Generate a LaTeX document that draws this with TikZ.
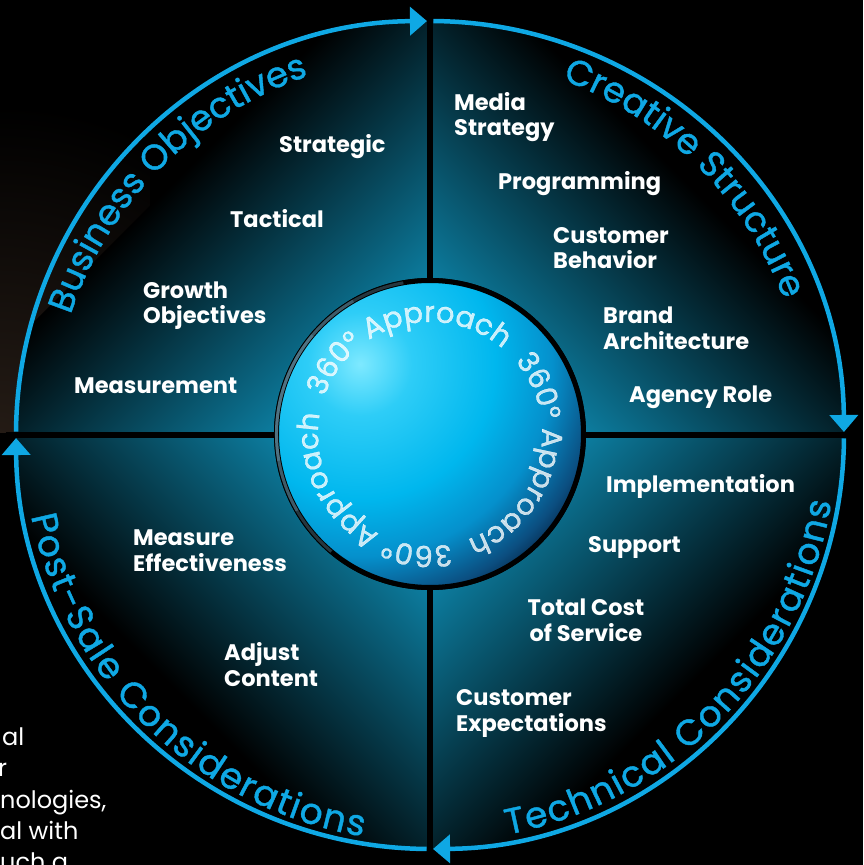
\documentclass[tikz,border=0pt]{standalone}
\usepackage{fontspec}
\setmainfont{Poppins}
\newfontfamily\arcfont{Poppins}[FakeBold=1.1]
\newfontfamily\ringfont{Poppins}[FakeBold=0.8]
\usetikzlibrary{arrows.meta,decorations.text}
\definecolor{arcblue}{HTML}{0FA8E4}
\definecolor{quadc}{HTML}{12B4E6}
\definecolor{quadm}{HTML}{06688C}
\definecolor{browntint}{HTML}{241B15}
\definecolor{bzero}{HTML}{7EE9FF}
\definecolor{bone}{HTML}{2ECDF7}
\definecolor{btwo}{HTML}{00B7EE}
\definecolor{bthree}{HTML}{0590CC}
\definecolor{bfour}{HTML}{0B4E80}
\definecolor{bfive}{HTML}{072A4D}
\definecolor{rimhi}{HTML}{6F9FB5}
\pgfdeclareradialshading{ballsh}{\pgfpoint{0bp}{0bp}}{color(0bp)=(bzero); color(5bp)=(bone); color(13bp)=(btwo); color(18.5bp)=(bthree); color(23bp)=(bfour); color(25bp)=(bfive); color(50bp)=(bfive)}
\tikzset{
  cyc/.style={draw=arcblue, line width=4.5pt, -{Triangle[length=17pt,width=28pt]}},
  lab/.style={text=white, font=\bfseries\fontsize{22.5}{25.5}\selectfont, inner sep=0pt, align=left, anchor=base west},
  frag/.style={text=white, font=\fontsize{24}{24}\selectfont, inner sep=0pt, anchor=base west},
  outerlab/.style={decorate, decoration={text along path, text={|\arcfont\fontsize{35.5}{35.5}\selectfont|#1}, text color=arcblue, text align=center}},
  outerfit/.style={decorate, decoration={text along path, text={|\arcfont\fontsize{36}{36}\selectfont|#1}, text color=arcblue, text align=fit to path}},
  ringlab/.style={decorate, decoration={text along path, text={|\ringfont\fontsize{29}{29}\selectfont|360° Approach}, text color=white, text align=center}},
}
\begin{document}
\begin{tikzpicture}[x=1pt,y=1pt]
\useasboundingbox (-430,-430) rectangle (433,435);
\fill[black] (-430,-430) rectangle (433,435);
% brownish tint at the left edge
\begin{scope}
  \clip (-430,3) rectangle (-280,435);
  \shade[inner color=browntint, outer color=black] (-430,0) circle (330);
\end{scope}
% quadrants with diagonal gradients
\foreach \a in {0,90,180,270} {
  \begin{scope}
    \clip (0,0) -- (\a:414) arc[start angle=\a, end angle=\a+90, radius=414] -- cycle;
    \begin{scope}[transform canvas={rotate=\a+45}]
      \shade[left color=quadc, middle color=quadm, right color=black] (0,-420) rectangle (360,420);
    \end{scope}
  \end{scope}
}
% dividers
\draw[black, line width=6pt] (0,-424) -- (0,424);
\draw[black, line width=6pt] (-424,0) -- (424,0);
% outer arcs with arrows
\draw[cyc] (179.52:414) arc[start angle=179.52, end angle=90.42, radius=414];
\draw[cyc] (89.52:414) arc[start angle=89.52, end angle=0.42, radius=414];
\draw[cyc] (-0.48:414) arc[start angle=-0.48, end angle=-89.58, radius=414];
\draw[cyc] (-90.48:414) arc[start angle=-90.48, end angle=-179.58, radius=414];
% outer labels
\path[outerlab={Business Objectives}]
  (170.1:379) arc[start angle=170.1, end angle=100.1, radius=379];
\path[outerlab={Creative Structure}]
  (80.25:379) arc[start angle=80.25, end angle=10.25, radius=379];
\path[outerfit={Technical Considerations}]
  (-79:407) arc[start angle=-79, end angle=-9.5, radius=407];
\path[outerfit={Post-Sale Considerations}]
  (191.5:407) arc[start angle=191.5, end angle=260.5, radius=407];
% inner ball
\fill[black] (0,1) circle (156);
\begin{scope}
  \clip (0,1) circle (152);
  \shade[shading=ballsh] (-70,71) circle (260);
\end{scope}
\draw[black, line width=5pt] (0,1) circle (153.5);
\draw[rimhi, line width=3pt, opacity=0.35] (0,1) ++(100:153.5) arc[start angle=100, end angle=230, radius=153.5];
\draw[rimhi, line width=3pt, opacity=0.35] (0,1) ++(120:153.5) arc[start angle=120, end angle=210, radius=153.5];
\draw[rimhi, line width=3pt, opacity=0.35] (0,1) ++(140:153.5) arc[start angle=140, end angle=190, radius=153.5];
% ring text
\begin{scope}[fill opacity=0.78]
\path[ringlab] (0,1) ++(167:112) arc[start angle=167, end angle=43, radius=112];
\path[ringlab] (0,1) ++(47:112) arc[start angle=47, end angle=-77, radius=112];
\path[ringlab] (0,1) ++(-73:112) arc[start angle=-73, end angle=-197, radius=112];
\end{scope}
% quadrant items (base = baseline of last line)
\node[lab] (strat) at (-151,282) {Strategic};
\node[lab] (tact) at (-200,207) {Tactical};
\node[lab] (growth) at (-287,111) {Growth\\Objectives};
\node[lab] (meas) at (-356,42) {Measurement};
\node[lab] (media) at (24,299) {Media\\Strategy};
\node[lab] (prog) at (68,245) {Programming};
\node[lab] (custb) at (123,166) {Customer\\Behavior};
\node[lab] (brand) at (173,86) {Brand\\Architecture};
\node[lab] (agency) at (199,33) {Agency Role};
\node[lab] (impl) at (176,-57) {Implementation};
\node[lab] (supp) at (158,-117) {Support};
\node[lab, align=center, anchor=base] (total) at (156,-206) {Total Cost\\of Service};
\node[lab] (custexp) at (26,-296) {Customer\\Expectations};
\node[lab] (measeff) at (-297,-136) {Measure\\Effectiveness};
\node[lab] (adjust) at (-206,-251) {Adjust\\Content};
% background text fragments
\node[frag] (fa) at (-428,-310) {al};
\node[frag] (fb) at (-432,-341) {r};
\node[frag] (fc) at (-430,-373) {nologies,};
\node[frag] (fd) at (-430,-404) {al with};
\node[frag] (fe) at (-430,-435) {uch a};
\end{tikzpicture}
\end{document}
